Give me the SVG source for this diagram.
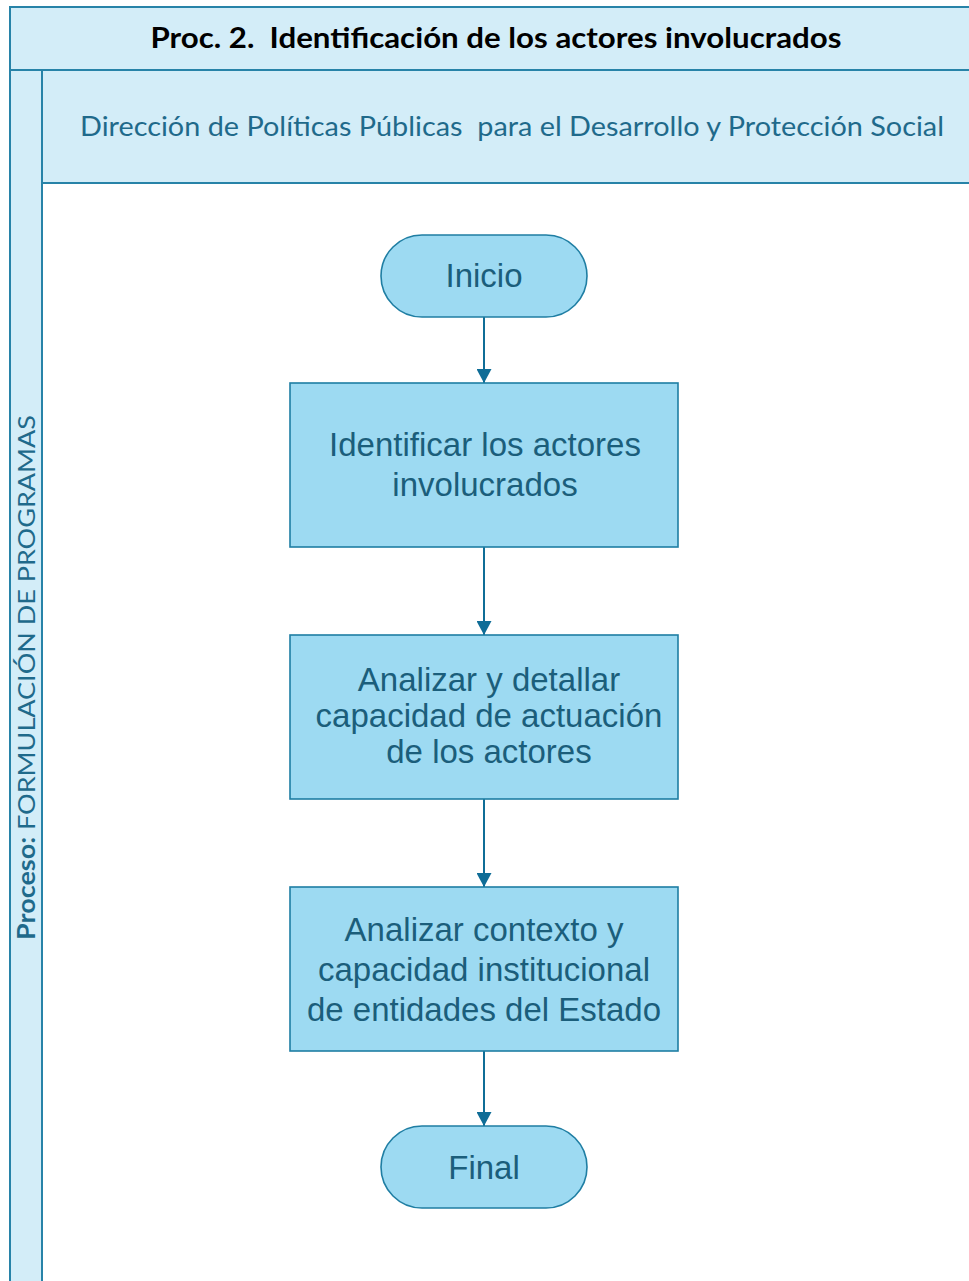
<svg xmlns="http://www.w3.org/2000/svg" width="969" height="1281" viewBox="0 0 969 1281">
<style>
.frame{fill:#d3edf8;stroke:#2783a8;stroke-width:2}
.node{fill:#9ddaf2;stroke:#1f7ea3;stroke-width:1.6}
.ntext{font-family:"Liberation Sans",Arial,sans-serif;font-size:33px;fill:#1b5e7b;text-anchor:middle}
.conn{stroke:#0f6d97;stroke-width:2;fill:none}
.pre{white-space:pre}
</style>
<defs>
<marker id="arr" markerWidth="14" markerHeight="15" refX="14" refY="7.5" orient="auto" markerUnits="userSpaceOnUse">
<path d="M0,0 L14,7.5 L0,15 Z" fill="#0f6d97"/>
</marker>
</defs>
<rect width="969" height="1281" fill="#ffffff"/>
<g id="pool">
<rect class="frame" x="10" y="7" width="1000" height="63"/>
<rect class="frame" x="10" y="70" width="32" height="1230"/>
<rect class="frame" x="42" y="70" width="960" height="113"/>
<rect x="43" y="184" width="960" height="1110" fill="#ffffff" stroke="none"/>
<line x1="42" y1="183" x2="42" y2="1290" stroke="#2783a8" stroke-width="2"/>
<text class="pre" xml:space="preserve" x="496" y="48" font-family="Lato,'Liberation Sans',sans-serif" font-weight="bold" font-size="28" fill="#000000" text-anchor="middle" textLength="691" lengthAdjust="spacingAndGlyphs">Proc. 2.  Identificación de los actores involucrados</text>
<text class="pre" xml:space="preserve" x="512" y="136" font-family="Lato,'Liberation Sans',sans-serif" font-size="27" fill="#1f6a8b" text-anchor="middle" textLength="864" lengthAdjust="spacingAndGlyphs">Dirección de Políticas Públicas  para el Desarrollo y Protección Social</text>
<text transform="translate(35,677.5) rotate(-90)" font-family="Lato,'Liberation Sans',sans-serif" font-size="24" fill="#1f6a8b" text-anchor="middle" textLength="525" lengthAdjust="spacingAndGlyphs"><tspan font-weight="bold">Proceso:</tspan> FORMULACIÓN DE PROGRAMAS</text>
</g>
<g id="connectors">
<line class="conn" x1="484" y1="317" x2="484" y2="383" marker-end="url(#arr)"/>
<line class="conn" x1="484" y1="547" x2="484" y2="635" marker-end="url(#arr)"/>
<line class="conn" x1="484" y1="799" x2="484" y2="887" marker-end="url(#arr)"/>
<line class="conn" x1="484" y1="1051" x2="484" y2="1126" marker-end="url(#arr)"/>
</g>
<g id="inicio">
<rect class="node" x="381" y="235" width="206" height="82" rx="41" ry="41"/>
<text class="ntext" x="484" y="287">Inicio</text>
</g>
<g id="identificar">
<rect class="node" x="290" y="383" width="388" height="164"/>
<text class="ntext" x="485" y="456">Identificar los actores</text>
<text class="ntext" x="485" y="496">involucrados</text>
</g>
<g id="analizar-capacidad">
<rect class="node" x="290" y="635" width="388" height="164"/>
<text class="ntext" x="489" y="691">Analizar y detallar</text>
<text class="ntext" x="489" y="727">capacidad de actuación</text>
<text class="ntext" x="489" y="763">de los actores</text>
</g>
<g id="analizar-contexto">
<rect class="node" x="290" y="887" width="388" height="164"/>
<text class="ntext" x="484" y="941">Analizar contexto y</text>
<text class="ntext" x="484" y="981">capacidad institucional</text>
<text class="ntext" x="484" y="1021">de entidades del Estado</text>
</g>
<g id="final">
<rect class="node" x="381" y="1126" width="206" height="82" rx="41" ry="41"/>
<text class="ntext" x="484" y="1179">Final</text>
</g>
</svg>
